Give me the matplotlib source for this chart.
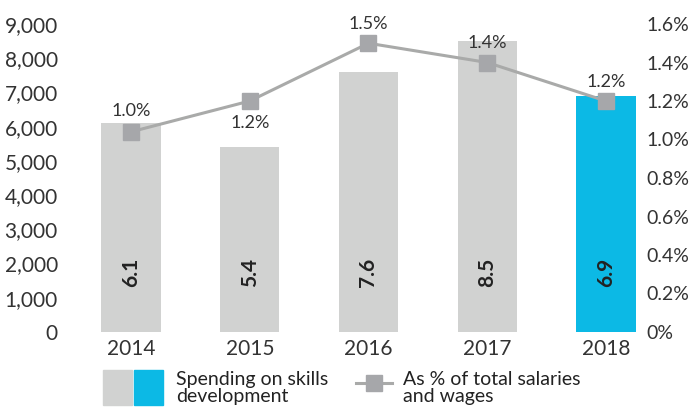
import matplotlib.pyplot as plt
from matplotlib.patches import Rectangle
from matplotlib.lines import Line2D

years = ['2014', '2015', '2016', '2017', '2018']
spending = [6100, 5400, 7600, 8500, 6900]
spending_labels = ['6.1', '5.4', '7.6', '8.5', '6.9']
pct = [1.04, 1.2, 1.5, 1.4, 1.2]
pct_labels = ['1.0%', '1.2%', '1.5%', '1.4%', '1.2%']
bar_colors = ['#d1d2d1', '#d1d2d1', '#d1d2d1', '#d1d2d1', '#0cb9e5']

plt.rcParams['font.family'] = ['Lato', 'DejaVu Sans']
text_col = '#333333'

fig = plt.figure(figsize=(6.93, 4.08), dpi=100)
ax = fig.add_axes([80 / 693, 1 - 332 / 408, 558 / 693, 308 / 408])
x = list(range(len(years)))

ax.bar(x, spending, width=0.5, color=bar_colors, zorder=1)
for i, lab in enumerate(spending_labels):
    ax.text(i, 1750, lab, rotation=90, ha='center', va='center',
            fontsize=15, fontweight='bold', color='#222222')

ax.set_ylim(0, 9000)
ax.set_xlim(-0.43, 4.27)
ax.set_yticks(range(0, 9001, 1000))
ax.set_yticklabels(['0' if v == 0 else f'{v:,}' for v in range(0, 9001, 1000)])
ax.set_xticks(x)
ax.set_xticklabels(years)
ax.tick_params(length=0, labelsize=15, colors=text_col, pad=5)
ax.tick_params(axis='y', pad=16)
for s in ax.spines.values():
    s.set_visible(False)

ax2 = ax.twinx()
ax2.plot(x, pct, color='#a9aaa9', lw=2.2, marker='s', ms=11,
         mfc='#a6a7aa', mec='#a6a7aa', zorder=3)
ax2.set_ylim(0, 1.6)
ax2.set_yticks([0, 0.2, 0.4, 0.6, 0.8, 1.0, 1.2, 1.4, 1.6])
ax2.set_yticklabels(['0%', '0.2%', '0.4%', '0.6%', '0.8%', '1.0%', '1.2%', '1.4%', '1.6%'])
ax2.tick_params(length=0, labelsize=14, colors=text_col, pad=6)
for s in ax2.spines.values():
    s.set_visible(False)

offsets = [15, -16, 14, 14, 14]
for i, (v, lab) in enumerate(zip(pct, pct_labels)):
    ax2.annotate(lab, (i, v), xytext=(0, offsets[i]), textcoords='offset points',
                 ha='center', va='center', fontsize=13, color=text_col)

# legend
fig.patches.append(Rectangle((103 / 693, 1 - 405 / 408), 29 / 693, 35 / 408,
                             transform=fig.transFigure, color='#d1d2d1'))
fig.patches.append(Rectangle((134 / 693, 1 - 405 / 408), 29 / 693, 35 / 408,
                             transform=fig.transFigure, color='#0cb9e5'))
fig.text(176 / 693, 1 - 388 / 408, 'Spending on skills\ndevelopment', fontsize=14,
         color='#222222', va='center', ha='left', linespacing=0.95)
fig.lines.append(Line2D([356 / 693, 392 / 693], [1 - 383 / 408, 1 - 383 / 408],
                        transform=fig.transFigure, color='#a9aaa9', lw=2.2))
fig.lines.append(Line2D([374 / 693], [1 - 383 / 408], transform=fig.transFigure,
                        marker='s', ms=12, mfc='#a6a7aa', mec='#a6a7aa', ls='none'))
fig.text(403 / 693, 1 - 388 / 408, 'As % of total salaries\nand wages', fontsize=14,
         color='#222222', va='center', ha='left', linespacing=0.95)

fig.savefig('out.png', dpi=100)
